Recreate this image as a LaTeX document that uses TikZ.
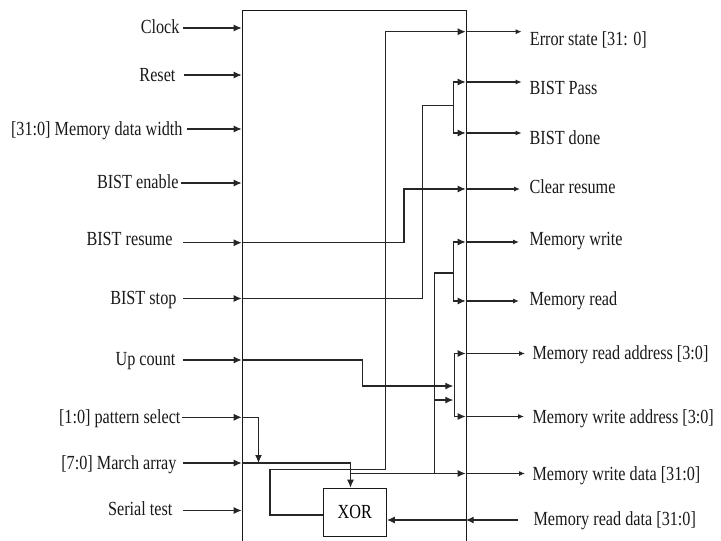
\documentclass[tikz,border=0pt]{standalone}
\usepackage{fontspec}
\newfontfamily\labfont{Liberation Serif}[FakeStretch=0.81]
\usetikzlibrary{arrows.meta}
\begin{document}
\begin{tikzpicture}[x=1pt,y=-1pt,line width=1.1pt,
  wire/.style={draw=black!85},
  pin/.style={wire,-{Latex[length=8pt,width=7pt]}},
  outarr/.style={wire,-{Latex[length=6pt,width=5pt]}},
  lbl/.style={font=\labfont\fontsize{20}{24}\selectfont,inner sep=0pt,text=black!90},
  inl/.style={lbl,anchor=base east},
  outl/.style={lbl,anchor=base west},
  blkbox/.style={draw=black!90,line width=1.2pt,minimum width=224pt,minimum height=545pt,inner sep=0pt,anchor=north west},
  xorbox/.style={draw=black!90,line width=1.2pt,minimum width=63pt,minimum height=48.3pt,inner sep=0pt,anchor=north west,font=\labfont\fontsize{20}{24}\selectfont}]
\useasboundingbox (0,0) rectangle (721,541);

% main block and XOR
\node[blkbox] (blk) at (241.7,10) {};
\node[xorbox] (xor) at (322.7,487.7) {XOR};

% ---------- left labels ----------
\node[inl] (lClock)   at (180,33.3)  {Clock};
\node[inl] (lReset)   at (176,81)    {Reset};
\node[inl] (lMdw)     at (183,135)   {[31:0] Memory data width};
\node[inl] (lEnable)  at (179,188)   {BIST enable};
\node[inl] (lResume)  at (173,245.7) {BIST resume};
\node[inl] (lStop)    at (177,304.3) {BIST stop};
\node[inl] (lUp)      at (176,365)   {Up count};
\node[inl] (lPat)     at (181,423.3) {[1:0] pattern select};
\node[inl] (lMarch)   at (177,469.3) {[7:0] March array};
\node[inl] (lSerial)  at (173,515)   {Serial test};

% ---------- right labels ----------
\node[outl] (rErr)    at (529.3,45.7) {Error state [31: 0]};
\node[outl] (rPass)   at (529,94.3)   {BIST Pass};
\node[outl] (rDone)   at (529,144)    {BIST done};
\node[outl] (rClr)    at (529,193)    {Clear resume};
\node[outl] (rMw)     at (529,245)    {Memory write};
\node[outl] (rMr)     at (529,305)    {Memory read};
\node[outl] (rMra)    at (532,359)    {Memory read address [3:0]};
\node[outl] (rMwa)    at (532,423)    {Memory write address [3:0]};
\node[outl] (rMwd)    at (532,480)    {Memory write data [31:0]};
\node[outl] (rMrd)    at (533,525)    {Memory read data [31:0]};

% ---------- left pin coordinates ----------
\foreach \n/\xs/\y in {Clock/183/28, Reset/184/75, Mdw/187/129, Enable/181/183,
  Resume/183/242.7, Stop/183/298.5, Up/183/360, Pat/182/417.3, March/183/463, Serial/183/510.5}{
  \coordinate (s\n) at (\xs,\y);
  \coordinate (p\n) at (241.7,\y);
}
\foreach \n in {Clock,Reset,Mdw,Enable,Resume,Stop,Up,Pat,March,Serial}{
  \draw[pin] (s\n) -- (p\n);
}

% ---------- right pin coordinates ----------
\foreach \n/\xe/\y in {Err/521.7/31.7, Pass/521.7/82, Done/521.7/133, Clr/520/189,
  Mw/519/242, Mr/519/301, Mra/525/353.5, Mwa/524/416.5, Mwd/525/473.5}{
  \coordinate (q\n) at (465.7,\y);
  \coordinate (e\n) at (\xe,\y);
  \draw[outarr] (q\n) -- (e\n);
}
\coordinate (qMrd) at (465.7,520);
\coordinate (eMrd) at (518,520);

% ---------- internal wiring ----------
% error state feedback loop
\draw[pin] (xor.west |- 0,515) -- (270,515) -- (270,469.3) -- (385.7,469.3) -- (385.7,31.7) -- (qErr);
% BIST resume -> clear resume
\draw[pin] (pResume) -- (404,242.7) -- (404,189) -- (qClr);
% BIST stop -> pass / done
\draw[wire] (pStop) -- (422.7,298.5) -- (422.7,105.7) -- (453.3,105.7);
\draw[pin] (453.3,105.7) -- (453.3,82) -- (qPass);
\draw[pin] (453.3,105.7) -- (453.3,133) -- (qDone);
% memory write / read
\draw[wire] (434.3,473.5) -- (434.3,273) -- (453.3,273);
\draw[pin] (453.3,273) -- (453.3,242) -- (qMw);
\draw[pin] (453.3,273) -- (453.3,301) -- (qMr);
% up count and address bus
\coordinate (busA) at (453.3,386);
\coordinate (busB) at (453.3,400);
\draw[pin] (pUp) -- (362.7,360) -- (362.7,386) -- (busA);
\draw[pin] (434.3,400) -- (busB);
\draw[pin] (454.3,385) -- (454.3,353.5) -- (qMra);
\draw[pin] (454.3,385) -- (454.3,416.5) -- (qMwa);
% pattern select
\draw[pin] (pPat) -- (258.5,417.3) -- (258.5,463);
% march array -> XOR
\draw[pin] (pMarch) -- (350.5,463) -- (350.5,463 |- xor.north);
% memory write data
\draw[pin] (350.5,473.5) -- (qMwd);
% memory read data -> XOR
\draw[pin] (eMrd) -- (qMrd);
\draw[pin] (qMrd) -- (xor.east |- qMrd);
\end{tikzpicture}
\end{document}
